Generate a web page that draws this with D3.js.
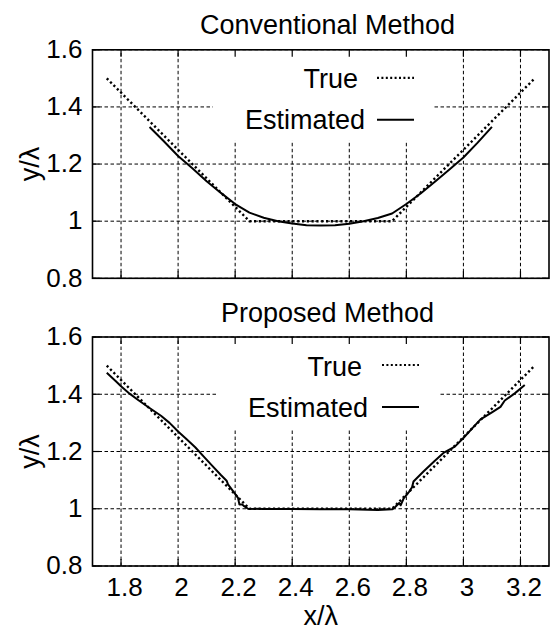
<!DOCTYPE html>
<html><head><meta charset="utf-8">
<script src="https://cdn.jsdelivr.net/npm/d3@7/dist/d3.min.js"></script>
<style>body{margin:0;background:#fff}svg{display:block}text{font-family:"Liberation Sans",Arial,sans-serif;fill:#000}</style>
</head><body>
<script>
// ---- data ----
const xTicks = [1.8, 2.0, 2.2, 2.4, 2.6, 2.8, 3.0, 3.2];
const xTickLabels = ["1.8", "2", "2.2", "2.4", "2.6", "2.8", "3", "3.2"];
const yTicks = [0.8, 1.0, 1.2, 1.4, 1.6];
const yTickLabels = ["0.8", "1", "1.2", "1.4", "1.6"];
const panelTitles = ["Conventional Method", "Proposed Method"];
const seriesNames = ["True", "Estimated"];

// true profile (same in both panels)
const trueX = [1.75, 2.25, 2.75, 3.25];
const trueY = [1.5, 1.0, 1.0, 1.5];

// conventional method estimate
const convX = [1.90,1.95,2.00,2.05,2.10,2.15,2.20,2.25,2.30,2.35,2.40,2.45,2.50,2.55,2.60,2.65,2.70,2.75,2.80,2.85,2.90,2.95,3.00,3.05,3.10];
const convY = [1.330,1.280,1.228,1.185,1.140,1.099,1.060,1.030,1.012,1.000,0.992,0.986,0.985,0.986,0.991,1.000,1.011,1.027,1.060,1.097,1.138,1.180,1.223,1.275,1.330];

// proposed method estimate
const propX = [1.75,1.78,1.80,1.83,1.86,1.90,1.94,1.97,2.00,2.03,2.06,2.09,2.12,2.15,2.17,2.175,2.19,2.21,2.215,2.225,2.23,2.245,2.30,2.40,2.50,2.60,2.70,2.75,2.76,2.775,2.78,2.79,2.81,2.82,2.825,2.86,2.90,2.93,2.97,3.00,3.03,3.06,3.10,3.13,3.145,3.18,3.215];
const propY = [1.475,1.447,1.428,1.402,1.380,1.352,1.325,1.300,1.270,1.243,1.215,1.182,1.150,1.118,1.098,1.085,1.065,1.038,1.015,1.015,1.010,1.000,0.999,0.999,0.998,0.998,0.996,0.998,1.005,1.020,1.012,1.035,1.060,1.075,1.095,1.130,1.168,1.195,1.217,1.247,1.280,1.312,1.337,1.356,1.378,1.403,1.432];

// ---- layout ----
const W = 552, H = 630;
const L = 92.5, R = 549;
const panels = [
  {top: 49.8, bottom: 278.3, est: [convX, convY], leg: {x0: 213, x1: 434, trueEnd: 358, estEnd: 365, s0: 377, s1: 414}},
  {top: 337, bottom: 566, est: [propX, propY], leg: {x0: 217, x1: 440, trueEnd: 362, estEnd: 368, s0: 382, s1: 419}}
];

const svg = d3.select("body").append("svg").attr("width", W).attr("height", H);
const x = d3.scaleLinear().domain([1.7, 3.3]).range([L, R]);
const zip = (a, b) => a.map((v, i) => [v, b[i]]);

panels.forEach((p, pi) => {
  const y = d3.scaleLinear().domain([0.8, 1.6]).range([p.bottom, p.top]);
  const g = svg.append("g");

  // grid
  g.selectAll(".vg").data(xTicks).join("line")
    .attr("x1", d => x(d)).attr("x2", d => x(d)).attr("y1", y(0.8)).attr("y2", y(1.6))
    .attr("stroke", "#000").attr("stroke-width", 1).attr("stroke-dasharray", "3.5,2.5");
  g.selectAll(".hg").data(yTicks).join("line")
    .attr("x1", L).attr("x2", R).attr("y1", d => y(d)).attr("y2", d => y(d))
    .attr("stroke", "#000").attr("stroke-width", 1).attr("stroke-dasharray", "3.5,2.5");

  // opaque key area
  g.append("rect").attr("x", p.leg.x0).attr("y", p.top + 1).attr("width", p.leg.x1 - p.leg.x0).attr("height", 90).attr("fill", "#fff");

  // ticks (inward on all sides)
  const tk = 7;
  g.selectAll(".tb").data(xTicks).join("line")
    .attr("x1", d => x(d)).attr("x2", d => x(d)).attr("y1", p.bottom).attr("y2", p.bottom - tk)
    .attr("stroke", "#000").attr("stroke-width", 1.2);
  g.selectAll(".tt").data(xTicks).join("line")
    .attr("x1", d => x(d)).attr("x2", d => x(d)).attr("y1", p.top).attr("y2", p.top + tk)
    .attr("stroke", "#000").attr("stroke-width", 1.2);
  g.selectAll(".tl").data(yTicks).join("line")
    .attr("x1", L).attr("x2", L + tk).attr("y1", d => y(d)).attr("y2", d => y(d))
    .attr("stroke", "#000").attr("stroke-width", 1.2);
  g.selectAll(".tr").data(yTicks).join("line")
    .attr("x1", R).attr("x2", R - tk).attr("y1", d => y(d)).attr("y2", d => y(d))
    .attr("stroke", "#000").attr("stroke-width", 1.2);

  // frame
  g.append("rect").attr("x", L).attr("y", p.top).attr("width", R - L).attr("height", p.bottom - p.top)
    .attr("fill", "none").attr("stroke", "#000").attr("stroke-width", 1.6);

  // y tick labels via axis
  const ya = d3.axisLeft(y).tickValues(yTicks).tickFormat((d, i) => yTickLabels[i]).tickSize(0).tickPadding(0);
  const yg = g.append("g").attr("transform", `translate(${L - 10},0)`).call(ya);
  yg.select(".domain").remove();
  yg.selectAll("text").attr("font-size", 26).attr("font-family", '"Liberation Sans",Arial,sans-serif').attr("fill", "#000").attr("dy", "0.3em").attr("x", 0);

  if (pi === 1) {
    const xa = d3.axisBottom(x).tickValues(xTicks).tickFormat((d, i) => xTickLabels[i]).tickSize(0).tickPadding(0);
    const xg = g.append("g").attr("transform", `translate(3,${p.bottom})`).call(xa);
    xg.select(".domain").remove();
    xg.selectAll("text").attr("font-size", 26).attr("font-family", '"Liberation Sans",Arial,sans-serif').attr("fill", "#000").attr("dy", null).attr("y", 30);
    svg.append("text").attr("x", (L + R) / 2).attr("y", 625).attr("text-anchor", "middle").attr("font-size", 27).text("x/λ");
  }

  // y label
  svg.append("text").attr("transform", `translate(39,${(p.top + p.bottom) / 2}) rotate(-90)`)
    .attr("text-anchor", "middle").attr("font-size", 27).text("y/λ");

  // title
  svg.append("text").attr("x", 327.5).attr("y", p.top - 15.5).attr("text-anchor", "middle").attr("font-size", 27).text(panelTitles[pi]);

  // data lines
  const line = d3.line().x(d => x(d[0])).y(d => y(d[1]));
  g.append("path").datum(zip(trueX, trueY)).attr("d", line)
    .attr("fill", "none").attr("stroke", "#000").attr("stroke-width", 2.4).attr("stroke-dasharray", "2.2,2.6");
  g.append("path").datum(zip(p.est[0], p.est[1])).attr("d", line)
    .attr("fill", "none").attr("stroke", "#000").attr("stroke-width", 2).attr("stroke-linejoin", "round");

  // legend
  g.append("text").attr("x", p.leg.trueEnd).attr("y", p.top + 38.5).attr("text-anchor", "end").attr("font-size", 27).text(seriesNames[0]);
  g.append("text").attr("x", p.leg.estEnd).attr("y", p.top + 79.5).attr("text-anchor", "end").attr("font-size", 27).text(seriesNames[1]);
  g.append("line").attr("x1", p.leg.s0).attr("x2", p.leg.s1).attr("y1", p.top + 28).attr("y2", p.top + 28)
    .attr("stroke", "#000").attr("stroke-width", 2.2).attr("stroke-dasharray", "2,2.4");
  g.append("line").attr("x1", p.leg.s0).attr("x2", p.leg.s1).attr("y1", p.top + 70).attr("y2", p.top + 70)
    .attr("stroke", "#000").attr("stroke-width", 2);
});
</script>
</body></html>
